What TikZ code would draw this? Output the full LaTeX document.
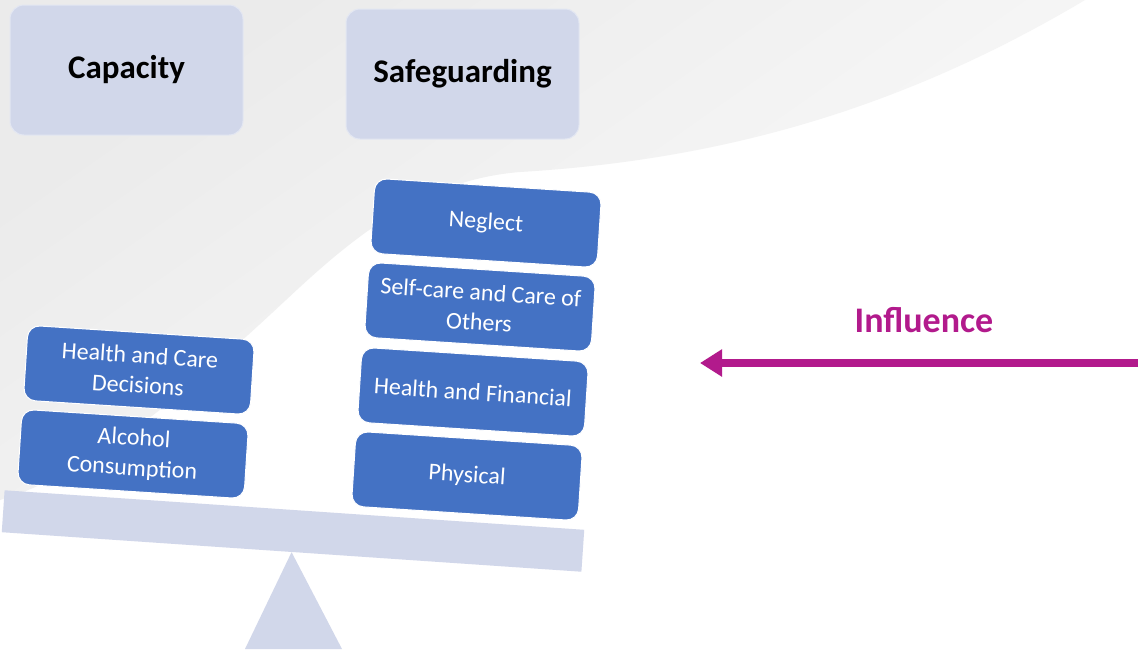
\documentclass[tikz,border=0pt]{standalone}
\usepackage{fontspec}
\setmainfont{Carlito}
\usetikzlibrary{arrows.meta,shapes}
\usepackage{xcolor}
\definecolor{boxblue}{RGB}{68,114,196}
\definecolor{lavender}{RGB}{209,215,234}
\definecolor{mymagenta}{RGB}{178,26,140}

\begin{document}
\begin{tikzpicture}[ x=1pt, y=-1pt
                   , topic/.style={rectangle, rounded corners=14pt, fill=lavender, draw=lavender!60!white, line width=1pt,
                                   minimum width=233pt, minimum height=130pt, font=\bfseries\fontsize{33}{40}\selectfont}
                   , item/.style={rectangle, rounded corners=12pt, fill=boxblue, draw=white, line width=1pt, text=white,
                                  minimum width=227pt, minimum height=75pt, inner sep=0pt, align=center,
                                  rotate=-3.7, font=\fontsize{24}{30}\selectfont}
                   ]

      \useasboundingbox (0,0) rectangle (1143,651);
      \fill [white] (0,0) rectangle (1143,651);

      % grey swoosh in the background
      \shade [top color=black!8, bottom color=black!1.5, shading angle=35]
            (0,0) -- (1085,0) .. controls (900,110) and (720,160) .. (520,172)
            .. controls (420,180) and (350,240) .. (286,300)
            .. controls (200,380) and (100,470) .. (0,500) -- cycle;

      \node (capacity) [topic] at (126.5,70) {Capacity};
      \node (safeguarding) [topic] at (462.5,74) {Safeguarding};

      % the balance
      \node (plank) [rectangle, fill=lavender, minimum width=581pt, minimum height=42pt, rotate=-3.9] at (293,531) {};
      \fill [lavender] (plank.south) -- (342,649) -- (245,649) -- cycle;

      \node (care) [item] at (139,370) {Health and Care\\Decisions};
      \node (alcohol) [item] at (133,454) {Alcohol\\Consumption};

      \node (neglect) [item] at (486,223) {Neglect};
      \node (selfcare) [item] at (480,307) {Self-care and Care of\\Others};
      \node (financial) [item] at (473,392) {Health and Financial};
      \node (physical) [item] at (467,476) {Physical};

      \node (influence) [text=mymagenta, font=\bfseries\fontsize{36}{43}\selectfont] at (924,320) {Influence};
      \coordinate (pushfrom) at (1138,363);
      \coordinate (pushto) at (700,363);
      \draw [-{Triangle[length=22pt, width=26pt]}, mymagenta, line width=8pt] (pushfrom) -- (pushto);

  \end{tikzpicture}
\end{document}
